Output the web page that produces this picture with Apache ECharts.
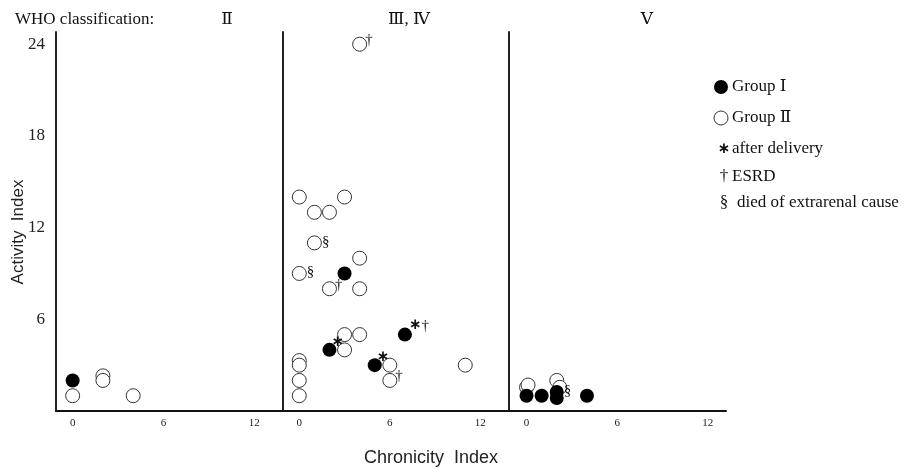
<!DOCTYPE html>
<html>
<head>
<meta charset="utf-8">
<script src="https://cdn.jsdelivr.net/npm/echarts@6/dist/echarts.min.js"></script>
<style>
html, body { margin: 0; padding: 0; background: #fff; }
#chart { width: 913px; height: 469px; }
</style>
</head>
<body>
<div id="chart"></div>
<script>
// panel headings (WHO class)
var panelNames = ['Ⅱ', 'Ⅲ, Ⅳ', 'Ⅴ'];
var xTicks = [0, 6, 12];
var yTicks = [6, 12, 18, 24];

// points: [chronicity index, activity index, note]
var groupOneII = [[0, 2]];
var groupTwoII = [[0, 1], [2, 2.3], [2, 2], [4, 1]];

var groupOneIII = [[3, 9], [7, 5, '∗†'], [2, 4, '∗'], [5, 3, '∗']];
var groupTwoIII = [
  [4, 24, '†'], [0, 14], [3, 14], [1, 13], [2, 13], [1, 11, '§'], [4, 10],
  [0, 9, '§'], [2, 8, '†'], [4, 8], [3, 5], [4, 5], [3, 4], [6, 3],
  [6, 2, '†'], [11, 3], [0, 3.3], [0, 3], [0, 2], [0, 1]
];

var groupOneV = [[0, 1], [1, 1], [2, 1.25, '§'], [2, 0.85], [4, 1]];
var groupTwoV = [[0, 1.55], [0.1, 1.7], [2, 2], [2.2, 1.55]];

var legendNames = ['Group Ⅰ', 'Group Ⅱ', 'after delivery', 'ESRD', 'died of extrarenal cause'];
var legendMarks = ['filled', 'open', '∗', '†', '§'];

var serif = '"Liberation Serif", "DejaVu Serif", serif';
var sans = '"Liberation Sans", Arial, sans-serif';

// where the note sits next to its circle
var noteOffset = { '∗': [-5, -8], '∗†': [-3, -9], '†': [-2, -4], '§': [0, -1] };

var panels = [
  { left: 56, width: 227, min: -1.1, max: 13.9, g1: groupOneII, g2: groupTwoII },
  { left: 283, width: 226, min: -1.08, max: 13.9, g1: groupOneIII, g2: groupTwoIII },
  { left: 509, width: 217, min: -1.16, max: 13.2, g1: groupOneV, g2: groupTwoV }
];

function makeSeries(points, idx, filled) {
  return {
    type: 'scatter',
    xAxisIndex: idx,
    yAxisIndex: idx,
    symbol: 'circle',
    symbolSize: 14,
    silent: true,
    itemStyle: filled
      ? { color: '#000', opacity: 1 }
      : { color: '#fff', borderColor: '#333', borderWidth: 1, opacity: 1 },
    label: {
      show: false,
      position: 'right',
      distance: 0,
      fontFamily: serif,
      fontSize: 15,
      color: '#111',
      rich: { s: { fontSize: 15, fontWeight: 'bold', color: '#111', fontFamily: 'DejaVu Sans' } }
    },
    data: points.map(function (p) {
      var item = { value: [p[0], p[1]] };
      if (p[2]) {
        item.label = {
          show: true,
          formatter: p[2].replace('∗', '{s|∗}'),
          offset: noteOffset[p[2]]
        };
      }
      return item;
    })
  };
}

var chart = echarts.init(document.getElementById('chart'));

var grids = [], xAxes = [], yAxes = [], series = [];
panels.forEach(function (pn, i) {
  grids.push({ left: pn.left, width: pn.width, top: 32, height: 379 });
  xAxes.push({
    type: 'value',
    gridIndex: i,
    min: pn.min,
    max: pn.max,
    axisLine: { show: true, onZero: false, lineStyle: { color: '#111', width: 2 } },
    axisTick: { show: false },
    splitLine: { show: false },
    axisLabel: {
      customValues: xTicks,
      fontFamily: serif,
      fontSize: 11,
      color: '#222',
      margin: 7
    }
  });
  yAxes.push({
    type: 'value',
    gridIndex: i,
    min: 0,
    max: 24.8,
    axisLine: { show: true, onZero: false, lineStyle: { color: '#222', width: 2 } },
    axisTick: { show: false },
    splitLine: { show: false },
    axisLabel: i === 0
      ? { customValues: yTicks, fontFamily: serif, fontSize: 17, color: '#222', margin: 11 }
      : { show: false }
  });
  series.push(makeSeries(pn.g2, i, false));
  series.push(makeSeries(pn.g1, i, true));
});

var graphics = [
  {
    type: 'text', x: 15, y: 20,
    style: { text: 'WHO classification:', font: '17px ' + serif, fill: '#111', verticalAlign: 'middle' }
  },
  {
    type: 'text', x: 431, y: 458,
    style: { text: 'Chronicity  Index', font: '18px ' + sans, fill: '#222', align: 'center', verticalAlign: 'middle' }
  },
  {
    type: 'text', x: 18, y: 232, rotation: Math.PI / 2,
    style: { text: 'Activity  Index', font: '17px ' + sans, fill: '#222', align: 'center', verticalAlign: 'middle' }
  }
];

var headX = [227, 409, 647];
panelNames.forEach(function (n, i) {
  graphics.push({
    type: 'text', x: headX[i], y: 20,
    style: { text: n, font: '17px ' + serif, fill: '#111', align: 'center', verticalAlign: 'middle' }
  });
});

var legendY = [87, 118, 149, 177, 203];
legendNames.forEach(function (n, i) {
  var m = legendMarks[i];
  if (m === 'filled' || m === 'open') {
    graphics.push({
      type: 'circle',
      shape: { cx: 721, cy: legendY[i], r: 7 },
      style: m === 'filled' ? { fill: '#000' } : { fill: '#fff', stroke: '#333', lineWidth: 1 }
    });
  } else {
    graphics.push({
      type: 'text', x: 724, y: legendY[i],
      style: {
        text: m,
        font: (m === '∗' ? 'bold 15px "DejaVu Sans"' : '17px ' + serif),
        fill: '#111', align: 'center', verticalAlign: 'middle'
      }
    });
  }
  graphics.push({
    type: 'text', x: m === '§' ? 737 : 732, y: legendY[i],
    style: { text: n, font: '17px ' + serif, fill: '#111', verticalAlign: 'middle' }
  });
});

chart.setOption({
  animation: false,
  grid: grids,
  xAxis: xAxes,
  yAxis: yAxes,
  series: series,
  graphic: graphics
});
</script>
</body>
</html>
